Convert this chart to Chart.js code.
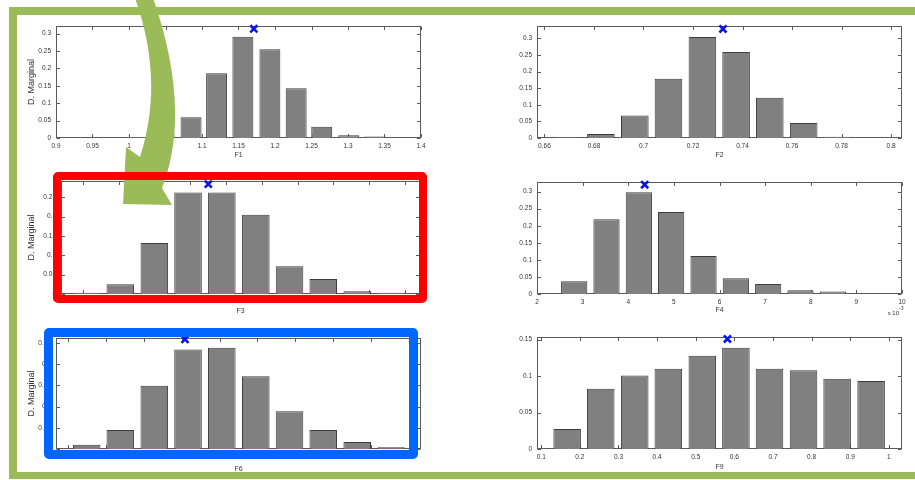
<!DOCTYPE html>
<html>
<head>
<meta charset="utf-8">
<script src="https://cdn.jsdelivr.net/npm/chart.js@4.4.1/dist/chart.umd.min.js"></script>
<style>
html,body{margin:0;padding:0;background:#fff;overflow:hidden;}
#stage{position:relative;width:915px;height:480px;overflow:hidden;}
canvas{position:absolute;}
.frame{position:absolute;left:9px;top:7px;width:940px;height:472px;box-sizing:border-box;border:8px solid #9bbb59;border-bottom-width:7px;}
.box{position:absolute;box-sizing:border-box;border-radius:5px;}
#redBox{left:53px;top:172px;width:374px;height:131px;border:8px solid #ff0000;}
#blueBox{left:44px;top:328px;width:374px;height:131px;border:9px solid #0066ff;}
#arrow{position:absolute;left:0;top:0;}
</style>
</head>
<body>
<div id="stage">
  <canvas id="c1" width="460" height="165" style="left:0;top:0"></canvas>
  <canvas id="c2" width="455" height="165" style="left:460px;top:0"></canvas>
  <canvas id="c3" width="460" height="155" style="left:0;top:165px"></canvas>
  <canvas id="c4" width="455" height="155" style="left:460px;top:165px"></canvas>
  <canvas id="c5" width="460" height="160" style="left:0;top:320px"></canvas>
  <canvas id="c6" width="455" height="160" style="left:460px;top:320px"></canvas>
  <div class="frame"></div>
  <svg id="arrow" width="915" height="480">
    <path d="M135 -2 C150 40 160 95 140 157 L126 147 L123 204 L172 205 L162 188 C185 130 175 60 153 -2 Z" fill="#9bbb59"/>
  </svg>
  <div class="box" id="redBox"></div>
  <div class="box" id="blueBox"></div>
</div>
<script>
// bin centres / heights
const f1Centers = [1.012, 1.048, 1.085, 1.120, 1.156, 1.193, 1.229, 1.264, 1.301, 1.337];
const f1Values  = [0.003, 0.013, 0.060, 0.186, 0.291, 0.255, 0.143, 0.032, 0.008, 0.004];
const f1Marker  = [1.171, 0.314];
const f1XRange  = [0.9, 1.4];

const f2Centers = [0.6692, 0.6828, 0.6965, 0.7101, 0.7238, 0.7374, 0.7510, 0.7647, 0.7783, 0.7920];
const f2Values  = [0.003, 0.012, 0.068, 0.178, 0.304, 0.259, 0.121, 0.045, 0.004, 0.001];
const f2Marker  = [0.7321, 0.328];
const f2XRange  = [0.657, 0.8044];

// F3 / F6 tick labels are hidden under the boxes: x in tick units
const f3Centers = [1.095, 2.036, 2.989, 3.933, 4.880, 5.832, 6.776, 7.720, 8.672, 9.619];
const f3Values  = [0.0034, 0.025, 0.132, 0.262, 0.262, 0.205, 0.0716, 0.039, 0.007, 0.0034];
const f3Marker  = [4.501, 0.284];
const f3XRange  = [0.375, 10.43];

const f4Centers = [2.815, 3.523, 4.232, 4.940, 5.650, 6.358, 7.067, 7.775, 8.485, 9.186];
const f4Values  = [0.037, 0.219, 0.298, 0.240, 0.111, 0.046, 0.029, 0.011, 0.007, 0.002];
const f4Marker  = [4.36, 0.32];
const f4XRange  = [2, 10];

const f6Centers = [1.487, 2.376, 3.275, 4.167, 5.061, 5.960, 6.852, 7.743, 8.643, 9.537];
const f6Values  = [0.010, 0.045, 0.149, 0.235, 0.239, 0.172, 0.089, 0.045, 0.0165, 0.004];
const f6Marker  = [4.087, 0.259];
const f6XRange  = [0.675, 10.33];

const f9Centers = [0.167, 0.254, 0.342, 0.429, 0.517, 0.604, 0.691, 0.779, 0.866, 0.954];
const f9Values  = [0.0274, 0.0828, 0.101, 0.110, 0.128, 0.139, 0.110, 0.108, 0.0965, 0.0933];
const f9Marker  = [0.582, 0.151];
const f9XRange  = [0.089, 1.034];

const yMaxes = [0.322, 0.337, 0.292, 0.328, 0.262, 0.1537];

const FONT = "'Liberation Sans', Arial, sans-serif";
const TXT = '#333';
const fmt = v => String(parseFloat(Number(v).toFixed(4)));

// matlab style box with inward ticks on all four sides
const boxPlugin = {
  id: 'matlabBox',
  beforeDatasetsDraw(chart){
    const {ctx, chartArea:a, scales} = chart;
    const L = Math.round(a.left)+0.5, R = Math.round(a.right)-0.5;
    const T = Math.round(a.top)+0.5, B = Math.round(a.bottom)-0.5;
    ctx.save();
    ctx.strokeStyle = '#5a5a5a'; ctx.lineWidth = 1;
    ctx.strokeRect(L, T, R-L, B-T);
    ctx.beginPath();
    scales.x.ticks.forEach(t => {
      const px = Math.round(scales.x.getPixelForValue(t.value))+0.5;
      ctx.moveTo(px,B); ctx.lineTo(px,B-3.5);
      ctx.moveTo(px,T); ctx.lineTo(px,T+3.5);
    });
    scales.y.ticks.forEach(t => {
      const py = Math.round(scales.y.getPixelForValue(t.value))+0.5;
      ctx.moveTo(L,py); ctx.lineTo(L+3.5,py);
      ctx.moveTo(R,py); ctx.lineTo(R-3.5,py);
    });
    ctx.stroke();
    ctx.restore();
  },
  afterDraw(chart, args, opts){
    if(!opts.exponent) return;
    const {ctx, chartArea:a} = chart;
    ctx.save();
    ctx.fillStyle = TXT;
    ctx.font = '6px ' + FONT;
    ctx.textAlign = 'right'; ctx.textBaseline = 'middle';
    ctx.fillText('x 10', a.right-3, a.bottom+19);
    ctx.font = '5px ' + FONT;
    ctx.textAlign = 'left';
    ctx.fillText('-3', a.right-3, a.bottom+15);
    ctx.restore();
  }
};

function makeHist(id, geo, centers, values, marker, xr, xStep, yMax, xLabel, o){
  return new Chart(document.getElementById(id), {
    type: 'bar',
    data: { datasets: [
      { type:'scatter', data:[{x:marker[0], y:marker[1]}], pointStyle:'crossRot', pointRadius:5,
        borderColor:'#0a14e6', backgroundColor:'#0a14e6', borderWidth:2.6, clip:false, order:0 },
      { data: centers.map((x,i) => ({x, y:values[i]})), backgroundColor:'#808080', borderColor:'#3c3c3c',
        borderWidth:1, barPercentage:0.82, categoryPercentage:1, order:1 }
    ]},
    options: {
      responsive:false, animation:false, devicePixelRatio:1,
      layout:{ padding:{left:0, top:geo.top, right:geo.right, bottom:0} },
      plugins:{ legend:{display:false}, tooltip:{enabled:false}, matlabBox:{exponent: !!o.exponent} },
      scales:{
        x:{ type:'linear', offset:false, min:xr[0], max:xr[1], grid:{display:false, drawTicks:false}, border:{display:false},
            ticks:{ display: o.xTicks !== false, stepSize:xStep, includeBounds:false, autoSkip:false, maxRotation:0,
                    padding:4, color:TXT, font:{family:FONT, size:6.5}, callback:v => fmt(v) },
            title:{ display:true, text:xLabel, color:TXT, font:{family:FONT, size:7}, padding:{top:0, bottom:geo.titleB} },
            afterFit: s => { s.height = geo.xh; } },
        y:{ type:'linear', min:0, max:yMax, grid:{display:false, drawTicks:false}, border:{display:false},
            ticks:{ stepSize:0.05, includeBounds:false, padding:5, color:TXT, font:{family:FONT, size:6.5}, callback:v => fmt(v) },
            title:{ display: !!o.yTitle, text:'D. Marginal', color:TXT, font:{family:FONT, size:9}, padding:{top:26.3, bottom:0} },
            afterFit: s => { s.width = geo.yw; } }
      }
    },
    plugins:[boxPlugin]
  });
}

makeHist('c1', {yw:56, top:26, right:39, xh:27, titleB:5.8}, f1Centers, f1Values, f1Marker, f1XRange, 0.05, yMaxes[0], 'F1', {yTitle:true});
makeHist('c2', {yw:77, top:26, right:13, xh:27, titleB:5.8}, f2Centers, f2Values, f2Marker, f2XRange, 0.02, yMaxes[1], 'F2', {});
makeHist('c3', {yw:61, top:16, right:40, xh:26, titleB:4.8}, f3Centers, f3Values, f3Marker, f3XRange, 1, yMaxes[2], 'F3', {yTitle:true, xTicks:false});
makeHist('c4', {yw:77, top:17, right:13, xh:26, titleB:5.8}, f4Centers, f4Values, f4Marker, f4XRange, 1, yMaxes[3], 'F4', {exponent:true});
makeHist('c5', {yw:56, top:18, right:39, xh:31, titleB:6.8}, f6Centers, f6Values, f6Marker, f6XRange, 1, yMaxes[4], 'F6', {yTitle:true, xTicks:false});
makeHist('c6', {yw:77, top:17, right:13, xh:31, titleB:9}, f9Centers, f9Values, f9Marker, f9XRange, 0.1, yMaxes[5], 'F9', {});
</script>
</body>
</html>
